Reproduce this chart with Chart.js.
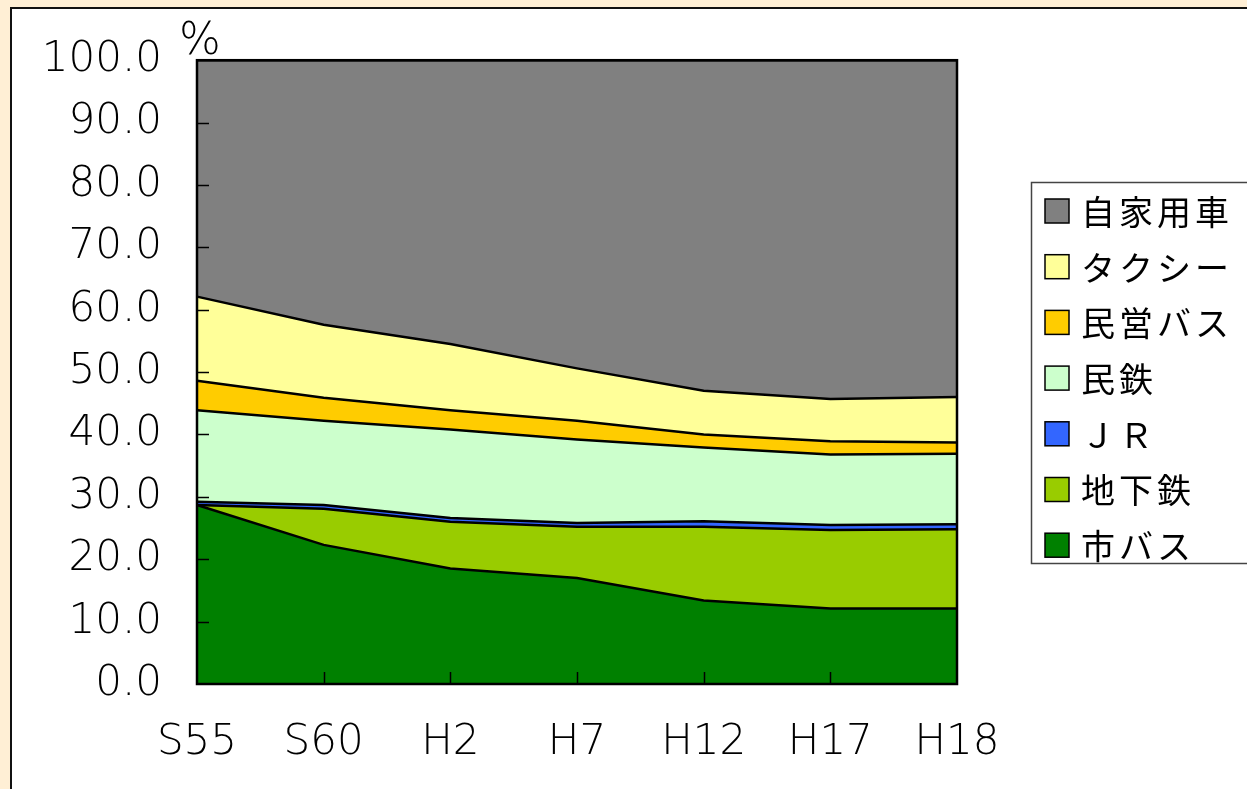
<!DOCTYPE html>
<html lang="ja">
<head>
  <meta charset="UTF-8" />
  <title>交通手段別分担率</title>
  <script src="https://cdn.jsdelivr.net/npm/chart.js"></script>
  <style>
    html, body { margin: 0; padding: 0; background: #FFEFD5; }
    #wrap { width: 1247px; height: 789px; }
  </style>
</head>
<body>
  <div id="wrap"><canvas id="chart" width="1247" height="789"></canvas></div>
  <script>
    const years = ["S55", "S60", "H2", "H7", "H12", "H17", "H18"];

    // 下から積み上げ (%)
    const cityBus   = [28.7, 22.3, 18.5, 17.0, 13.4, 12.1, 12.1];
    const subway    = [0.0, 5.8, 7.5, 8.2, 11.8, 12.6, 12.7];
    const jr        = [0.5, 0.6, 0.6, 0.6, 0.9, 0.8, 0.8];
    const privRail  = [14.7, 13.5, 14.2, 13.4, 11.8, 11.3, 11.3];
    const privBus   = [4.7, 3.7, 3.1, 3.0, 2.1, 2.1, 1.8];
    const taxi      = [13.5, 11.7, 10.6, 8.4, 7.0, 6.8, 7.3];
    const car       = [37.9, 42.4, 45.5, 49.4, 53.0, 54.3, 54.0];

    const seriesNames  = ["市バス", "地下鉄", "ＪＲ", "民鉄", "民営バス", "タクシー", "自家用車"];
    const seriesData   = [cityBus, subway, jr, privRail, privBus, taxi, car];
    const seriesColors = ["#008000", "#99CC00", "#3366FF", "#CCFFCC", "#FFCC00", "#FFFF99", "#808080"];

    const numFont = { family: "'DejaVu Sans', sans-serif", size: 42, weight: 200 };
    const jpFont = "'Noto Sans CJK JP', sans-serif";

    const datasets = seriesNames.map((name, i) => ({
      label: name,
      data: seriesData[i],
      backgroundColor: seriesColors[i],
      borderColor: "#000",
      borderWidth: 2.5,
      pointRadius: 0,
      tension: 0,
      fill: i === 0 ? "origin" : "-1"
    }));

    const backgroundPlugin = {
      id: "bg",
      beforeDraw(chart) {
        const ctx = chart.ctx;
        ctx.save();
        ctx.fillStyle = "#FFEFD5";
        ctx.fillRect(0, 0, chart.width, chart.height);
        ctx.fillStyle = "#fff";
        ctx.fillRect(10, 7, chart.width, chart.height);
        ctx.strokeStyle = "#111";
        ctx.lineWidth = 2;
        ctx.strokeRect(11, 8, chart.width + 10, chart.height + 10);
        ctx.restore();
      }
    };

    const framePlugin = {
      id: "frame",
      afterDatasetsDraw(chart) {
        const ctx = chart.ctx;
        const a = chart.chartArea;
        const x = chart.scales.x, y = chart.scales.y;
        ctx.save();
        ctx.strokeStyle = "#000";
        ctx.lineWidth = 1.5;
        ctx.beginPath();
        // 目盛り（内向き）
        for (let v = 10; v < 100; v += 10) {
          const py = Math.round(y.getPixelForValue(v)) + 0.5;
          ctx.moveTo(a.left, py);
          ctx.lineTo(a.left + 12, py);
        }
        for (let i = 1; i < years.length - 1; i++) {
          const px = Math.round(x.getPixelForValue(i)) + 0.5;
          ctx.moveTo(px, a.bottom);
          ctx.lineTo(px, a.bottom - 12);
        }
        ctx.stroke();
        ctx.lineWidth = 2.5;
        ctx.strokeRect(a.left, a.top, a.right - a.left, a.bottom - a.top);
        ctx.restore();
      },
      afterDraw(chart) {
        const ctx = chart.ctx;
        ctx.save();
        // % 表示
        ctx.fillStyle = "#000";
        ctx.font = "200 44px 'DejaVu Sans', sans-serif";
        ctx.textBaseline = "alphabetic";
        ctx.fillText("%", 179, 54);

        // 凡例
        const lx = 1031, ly = 182, lh = 381;
        ctx.fillStyle = "#fff";
        ctx.fillRect(lx, ly, 230, lh);
        ctx.strokeStyle = "#444";
        ctx.lineWidth = 1.5;
        ctx.strokeRect(lx + 0.5, ly + 0.5, 240, lh);
        ctx.font = "34px " + jpFont;
        ctx.textBaseline = "middle";
        ctx.letterSpacing = "4px";
        const ds = chart.data.datasets.slice().reverse();
        ds.forEach((d, i) => {
          const cy = 211 + i * 55.7;
          ctx.fillStyle = d.backgroundColor;
          ctx.fillRect(1045, cy - 12, 24, 24);
          ctx.strokeStyle = "#000";
          ctx.lineWidth = 1.5;
          ctx.strokeRect(1045, cy - 12, 24, 24);
          ctx.fillStyle = "#000";
          ctx.fillText(d.label, 1081, cy + 1);
        });
        ctx.restore();
      }
    };

    new Chart(document.getElementById("chart"), {
      type: "line",
      data: { labels: years, datasets },
      plugins: [backgroundPlugin, framePlugin],
      options: {
        responsive: false,
        animation: false,
        layout: { padding: { left: 0, top: 57, right: 290, bottom: 0 } },
        plugins: {
          legend: { display: false },
          tooltip: { enabled: false },
          filler: { propagate: false }
        },
        scales: {
          x: {
            offset: false,
            grid: { display: false, drawTicks: false },
            border: { display: false },
            ticks: { color: "#000", font: numFont, padding: 34, maxRotation: 0 },
            afterFit(scale) { scale.height = 105; }
          },
          y: {
            stacked: true,
            min: 0,
            max: 100,
            grid: { display: false, drawTicks: false },
            border: { display: false },
            ticks: {
              stepSize: 10,
              color: "#000",
              font: numFont,
              padding: 35,
              callback: v => v.toFixed(1)
            },
            afterFit(scale) { scale.width = 197; }
          }
        }
      }
    });
  </script>
</body>
</html>
